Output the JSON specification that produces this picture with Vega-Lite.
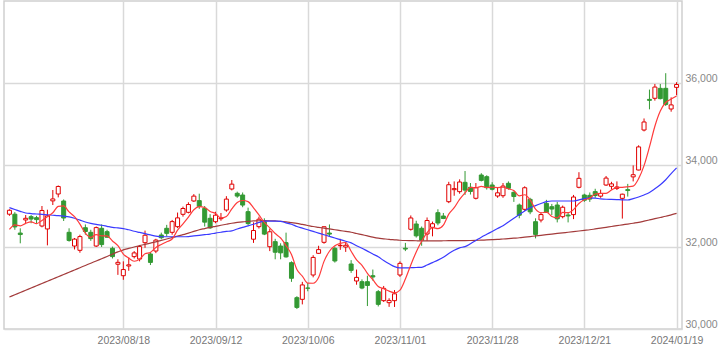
{
  "$schema": "https://vega.github.io/schema/vega-lite/v6.json",
  "width": 678,
  "height": 328,
  "autosize": {"type": "none"},
  "padding": {"left": 4, "top": 1, "right": 39, "bottom": 24},
  "background": "white",
  "config": {"view": {"stroke": "#cfcfcf", "strokeWidth": 1.5}, "font": "Liberation Sans"},
  "data": {"values": [
    {"d":"2023/07/19","o":32800,"h":32920,"l":32760,"c":32896,"m5":32429,"m25":32960,"m75":30780},
    {"d":"2023/07/20","o":32800,"h":32850,"l":32420,"c":32490,"m5":32538,"m25":32915,"m75":30835},
    {"d":"2023/07/21","o":32340,"h":32456,"l":32090,"c":32304,"m5":32515,"m25":32870,"m75":30890},
    {"d":"2023/07/24","o":32660,"h":32780,"l":32580,"c":32700,"m5":32577,"m25":32830,"m75":30945},
    {"d":"2023/07/25","o":32740,"h":32780,"l":32580,"c":32682,"m5":32614,"m25":32815,"m75":31000},
    {"d":"2023/07/26","o":32715,"h":32760,"l":32560,"c":32668,"m5":32569,"m25":32805,"m75":31055},
    {"d":"2023/07/27","o":32512,"h":33000,"l":32480,"c":32891,"m5":32649,"m25":32795,"m75":31110},
    {"d":"2023/07/28","o":32440,"h":32910,"l":32040,"c":32759,"m5":32740,"m25":32785,"m75":31165},
    {"d":"2023/07/31","o":33125,"h":33390,"l":33024,"c":33172,"m5":32834,"m25":32775,"m75":31220},
    {"d":"2023/08/01","o":33293,"h":33500,"l":33210,"c":33476,"m5":32993,"m25":32765,"m75":31275},
    {"d":"2023/08/02","o":33122,"h":33160,"l":32634,"c":32707,"m5":33001,"m25":32752,"m75":31330},
    {"d":"2023/08/03","o":32358,"h":32456,"l":32130,"c":32159,"m5":32855,"m25":32735,"m75":31385},
    {"d":"2023/08/04","o":32024,"h":32220,"l":31940,"c":32192,"m5":32741,"m25":32700,"m75":31440},
    {"d":"2023/08/07","o":31919,"h":32300,"l":31860,"c":32254,"m5":32558,"m25":32655,"m75":31495},
    {"d":"2023/08/08","o":32470,"h":32550,"l":32300,"c":32377,"m5":32338,"m25":32610,"m75":31550},
    {"d":"2023/08/09","o":32358,"h":32420,"l":32150,"c":32204,"m5":32237,"m25":32575,"m75":31605},
    {"d":"2023/08/10","o":32024,"h":32500,"l":32000,"c":32473,"m5":32300,"m25":32550,"m75":31660},
    {"d":"2023/08/14","o":32456,"h":32550,"l":32000,"c":32059,"m5":32273,"m25":32530,"m75":31715},
    {"d":"2023/08/15","o":32374,"h":32420,"l":32230,"c":32238,"m5":32270,"m25":32505,"m75":31770},
    {"d":"2023/08/16","o":31968,"h":32010,"l":31720,"c":31766,"m5":32148,"m25":32480,"m75":31825},
    {"d":"2023/08/17","o":31580,"h":31700,"l":31320,"c":31626,"m5":32032,"m25":32465,"m75":31880},
    {"d":"2023/08/18","o":31300,"h":31650,"l":31200,"c":31450,"m5":31828,"m25":32450,"m75":31930},
    {"d":"2023/08/21","o":31537,"h":31740,"l":31420,"c":31565,"m5":31729,"m25":32420,"m75":31965},
    {"d":"2023/08/22","o":31765,"h":31900,"l":31720,"c":31856,"m5":31653,"m25":32385,"m75":32000},
    {"d":"2023/08/23","o":31707,"h":32050,"l":31650,"c":32010,"m5":31701,"m25":32355,"m75":32035},
    {"d":"2023/08/24","o":32105,"h":32400,"l":31980,"c":32287,"m5":31834,"m25":32325,"m75":32065},
    {"d":"2023/08/25","o":31830,"h":31880,"l":31560,"c":31624,"m5":31868,"m25":32295,"m75":32095},
    {"d":"2023/08/28","o":31902,"h":32200,"l":31850,"c":32169,"m5":31989,"m25":32265,"m75":32125},
    {"d":"2023/08/29","o":32293,"h":32350,"l":32190,"c":32226,"m5":32063,"m25":32250,"m75":32160},
    {"d":"2023/08/30","o":32456,"h":32540,"l":32260,"c":32333,"m5":32128,"m25":32250,"m75":32195},
    {"d":"2023/08/31","o":32358,"h":32660,"l":32300,"c":32619,"m5":32194,"m25":32250,"m75":32230},
    {"d":"2023/09/01","o":32496,"h":32840,"l":32460,"c":32710,"m5":32411,"m25":32250,"m75":32265},
    {"d":"2023/09/04","o":32797,"h":32985,"l":32740,"c":32939,"m5":32565,"m25":32250,"m75":32300},
    {"d":"2023/09/05","o":32846,"h":33090,"l":32820,"c":33036,"m5":32727,"m25":32255,"m75":32340},
    {"d":"2023/09/06","o":33122,"h":33290,"l":33100,"c":33241,"m5":32909,"m25":32270,"m75":32380},
    {"d":"2023/09/07","o":33131,"h":33300,"l":32930,"c":32991,"m5":32983,"m25":32285,"m75":32420},
    {"d":"2023/09/08","o":32943,"h":33000,"l":32500,"c":32606,"m5":32963,"m25":32300,"m75":32450},
    {"d":"2023/09/11","o":32700,"h":32800,"l":32440,"c":32467,"m5":32868,"m25":32315,"m75":32480},
    {"d":"2023/09/12","o":32617,"h":32860,"l":32580,"c":32776,"m5":32816,"m25":32340,"m75":32505},
    {"d":"2023/09/13","o":32690,"h":32830,"l":32640,"c":32706,"m5":32709,"m25":32360,"m75":32530},
    {"d":"2023/09/14","o":32902,"h":33240,"l":32860,"c":33168,"m5":32745,"m25":32380,"m75":32555},
    {"d":"2023/09/15","o":33415,"h":33634,"l":33380,"c":33533,"m5":32930,"m25":32395,"m75":32580},
    {"d":"2023/09/19","o":33310,"h":33350,"l":33200,"c":33242,"m5":33085,"m25":32440,"m75":32600},
    {"d":"2023/09/20","o":33268,"h":33330,"l":32970,"c":33023,"m5":33134,"m25":32480,"m75":32615},
    {"d":"2023/09/21","o":32862,"h":32960,"l":32530,"c":32571,"m5":33107,"m25":32515,"m75":32625},
    {"d":"2023/09/22","o":32190,"h":32600,"l":32100,"c":32402,"m5":32954,"m25":32555,"m75":32635},
    {"d":"2023/09/25","o":32496,"h":32740,"l":32450,"c":32678,"m5":32783,"m25":32600,"m75":32640},
    {"d":"2023/09/26","o":32617,"h":32700,"l":32290,"c":32315,"m5":32598,"m25":32630,"m75":32642},
    {"d":"2023/09/27","o":32007,"h":32450,"l":31900,"c":32371,"m5":32467,"m25":32632,"m75":32640},
    {"d":"2023/09/28","o":32130,"h":32200,"l":31700,"c":31872,"m5":32328,"m25":32630,"m75":32635},
    {"d":"2023/09/29","o":32024,"h":32090,"l":31700,"c":31857,"m5":32219,"m25":32627,"m75":32628},
    {"d":"2023/10/02","o":32106,"h":32350,"l":31740,"c":31759,"m5":32035,"m25":32590,"m75":32615},
    {"d":"2023/10/03","o":31618,"h":31650,"l":31150,"c":31237,"m5":31819,"m25":32555,"m75":32595},
    {"d":"2023/10/04","o":30764,"h":30800,"l":30487,"c":30526,"m5":31450,"m25":32500,"m75":32575},
    {"d":"2023/10/05","o":30724,"h":31150,"l":30600,"c":31075,"m5":31291,"m25":32460,"m75":32550},
    {"d":"2023/10/06","o":31000,"h":31120,"l":30920,"c":30994,"m5":31118,"m25":32420,"m75":32525},
    {"d":"2023/10/10","o":31317,"h":31800,"l":31260,"c":31746,"m5":31116,"m25":32380,"m75":32500},
    {"d":"2023/10/11","o":31846,"h":32030,"l":31830,"c":31936,"m5":31255,"m25":32340,"m75":32480},
    {"d":"2023/10/12","o":32114,"h":32500,"l":32080,"c":32494,"m5":31649,"m25":32300,"m75":32460},
    {"d":"2023/10/13","o":32340,"h":32550,"l":32260,"c":32315,"m5":31897,"m25":32260,"m75":32440},
    {"d":"2023/10/16","o":31968,"h":32010,"l":31620,"c":31659,"m5":32030,"m25":32220,"m75":32420},
    {"d":"2023/10/17","o":32030,"h":32200,"l":31930,"c":32040,"m5":32089,"m25":32180,"m75":32400},
    {"d":"2023/10/18","o":32000,"h":32100,"l":31880,"c":32042,"m5":32110,"m25":32140,"m75":32380},
    {"d":"2023/10/19","o":31585,"h":31680,"l":31370,"c":31430,"m5":31897,"m25":32100,"m75":32360},
    {"d":"2023/10/20","o":31171,"h":31450,"l":31080,"c":31259,"m5":31686,"m25":32030,"m75":32330},
    {"d":"2023/10/23","o":31154,"h":31210,"l":30970,"c":30999,"m5":31554,"m25":31970,"m75":32300},
    {"d":"2023/10/24","o":31154,"h":31300,"l":30560,"c":31062,"m5":31358,"m25":31900,"m75":32270},
    {"d":"2023/10/25","o":31300,"h":31450,"l":31180,"c":31269,"m5":31204,"m25":31830,"m75":32240},
    {"d":"2023/10/26","o":30910,"h":30950,"l":30550,"c":30601,"m5":31038,"m25":31760,"m75":32215},
    {"d":"2023/10/27","o":30691,"h":31050,"l":30660,"c":30991,"m5":30984,"m25":31670,"m75":32200},
    {"d":"2023/10/30","o":30642,"h":30750,"l":30540,"c":30697,"m5":30924,"m25":31590,"m75":32185},
    {"d":"2023/10/31","o":30691,"h":30950,"l":30538,"c":30858,"m5":30883,"m25":31520,"m75":32175},
    {"d":"2023/11/01","o":31317,"h":31650,"l":31270,"c":31601,"m5":30950,"m25":31490,"m75":32165},
    {"d":"2023/11/02","o":31970,"h":32100,"l":31900,"c":31950,"m5":31219,"m25":31490,"m75":32158},
    {"d":"2023/11/06","o":32432,"h":32770,"l":32400,"c":32708,"m5":31563,"m25":31495,"m75":32155},
    {"d":"2023/11/07","o":32561,"h":32640,"l":32230,"c":32272,"m5":31878,"m25":31500,"m75":32152},
    {"d":"2023/11/08","o":32456,"h":32500,"l":32030,"c":32166,"m5":32139,"m25":31505,"m75":32150},
    {"d":"2023/11/09","o":32317,"h":32720,"l":32150,"c":32646,"m5":32348,"m25":31560,"m75":32150},
    {"d":"2023/11/10","o":32480,"h":32620,"l":32260,"c":32568,"m5":32472,"m25":31620,"m75":32150},
    {"d":"2023/11/13","o":32837,"h":32920,"l":32530,"c":32585,"m5":32447,"m25":31680,"m75":32150},
    {"d":"2023/11/14","o":32756,"h":32830,"l":32680,"c":32695,"m5":32532,"m25":31750,"m75":32152},
    {"d":"2023/11/15","o":33105,"h":33590,"l":33070,"c":33519,"m5":32803,"m25":31840,"m75":32154},
    {"d":"2023/11/16","o":33398,"h":33600,"l":33250,"c":33424,"m5":32958,"m25":31920,"m75":32154},
    {"d":"2023/11/17","o":33350,"h":33650,"l":33300,"c":33585,"m5":33162,"m25":31980,"m75":32155},
    {"d":"2023/11/20","o":33577,"h":33853,"l":33270,"c":33388,"m5":33322,"m25":32010,"m75":32156},
    {"d":"2023/11/21","o":33456,"h":33560,"l":33280,"c":33354,"m5":33454,"m25":32080,"m75":32158},
    {"d":"2023/11/22","o":33188,"h":33560,"l":33160,"c":33451,"m5":33440,"m25":32160,"m75":32162},
    {"d":"2023/11/24","o":33756,"h":33800,"l":33600,"c":33625,"m5":33481,"m25":32240,"m75":32168},
    {"d":"2023/11/27","o":33715,"h":33750,"l":33400,"c":33447,"m5":33453,"m25":32310,"m75":32172},
    {"d":"2023/11/28","o":33512,"h":33580,"l":33380,"c":33408,"m5":33457,"m25":32380,"m75":32178},
    {"d":"2023/11/29","o":33244,"h":33450,"l":33200,"c":33321,"m5":33450,"m25":32450,"m75":32185},
    {"d":"2023/11/30","o":33251,"h":33560,"l":33200,"c":33486,"m5":33457,"m25":32520,"m75":32195},
    {"d":"2023/12/01","o":33553,"h":33600,"l":33400,"c":33431,"m5":33419,"m25":32610,"m75":32205},
    {"d":"2023/12/04","o":33334,"h":33350,"l":33100,"c":33231,"m5":33375,"m25":32700,"m75":32215},
    {"d":"2023/12/05","o":33024,"h":33060,"l":32700,"c":32775,"m5":33249,"m25":32790,"m75":32225},
    {"d":"2023/12/06","o":32919,"h":33480,"l":32880,"c":33445,"m5":33274,"m25":32880,"m75":32240},
    {"d":"2023/12/07","o":33163,"h":33200,"l":32800,"c":32858,"m5":33148,"m25":32955,"m75":32255},
    {"d":"2023/12/08","o":32617,"h":32700,"l":32210,"c":32307,"m5":32923,"m25":33010,"m75":32270},
    {"d":"2023/12/11","o":32658,"h":32850,"l":32600,"c":32791,"m5":32835,"m25":33060,"m75":32285},
    {"d":"2023/12/12","o":33065,"h":33150,"l":32830,"c":32843,"m5":32849,"m25":33105,"m75":32300},
    {"d":"2023/12/13","o":32983,"h":33050,"l":32780,"c":32926,"m5":32745,"m25":33122,"m75":32315},
    {"d":"2023/12/14","o":33024,"h":33100,"l":32600,"c":32686,"m5":32711,"m25":33122,"m75":32330},
    {"d":"2023/12/15","o":32740,"h":33010,"l":32700,"c":32970,"m5":32843,"m25":33122,"m75":32345},
    {"d":"2023/12/18","o":32780,"h":32850,"l":32600,"c":32758,"m5":32837,"m25":33122,"m75":32360},
    {"d":"2023/12/19","o":32790,"h":33270,"l":32680,"c":33219,"m5":32912,"m25":33122,"m75":32375},
    {"d":"2023/12/20","o":33456,"h":33824,"l":33431,"c":33675,"m5":33062,"m25":33150,"m75":32390},
    {"d":"2023/12/21","o":33268,"h":33300,"l":33100,"c":33140,"m5":33152,"m25":33180,"m75":32405},
    {"d":"2023/12/22","o":33260,"h":33330,"l":33100,"c":33169,"m5":33192,"m25":33200,"m75":32420},
    {"d":"2023/12/25","o":33350,"h":33420,"l":33200,"c":33255,"m5":33292,"m25":33190,"m75":32440},
    {"d":"2023/12/26","o":33240,"h":33400,"l":33200,"c":33305,"m5":33309,"m25":33175,"m75":32460},
    {"d":"2023/12/27","o":33512,"h":33732,"l":33490,"c":33681,"m5":33310,"m25":33165,"m75":32480},
    {"d":"2023/12/28","o":33480,"h":33590,"l":33400,"c":33540,"m5":33390,"m25":33160,"m75":32500},
    {"d":"2023/12/29","o":33430,"h":33600,"l":33390,"c":33464,"m5":33449,"m25":33155,"m75":32520},
    {"d":"2024/01/04","o":33187,"h":33300,"l":32693,"c":33288,"m5":33456,"m25":33150,"m75":32540},
    {"d":"2024/01/05","o":33400,"h":33540,"l":33230,"c":33377,"m5":33470,"m25":33146,"m75":32560},
    {"d":"2024/01/09","o":33710,"h":33990,"l":33600,"c":33763,"m5":33486,"m25":33180,"m75":32580},
    {"d":"2024/01/10","o":33878,"h":34480,"l":33870,"c":34441,"m5":33667,"m25":33220,"m75":32600},
    {"d":"2024/01/11","o":34853,"h":35135,"l":34820,"c":35049,"m5":33984,"m25":33270,"m75":32630},
    {"d":"2024/01/12","o":35600,"h":35839,"l":35358,"c":35577,"m5":34441,"m25":33330,"m75":32660},
    {"d":"2024/01/15","o":35627,"h":35976,"l":35570,"c":35901,"m5":34946,"m25":33420,"m75":32690},
    {"d":"2024/01/16","o":35870,"h":35976,"l":35600,"c":35619,"m5":35317,"m25":33520,"m75":32720},
    {"d":"2024/01/17","o":35870,"h":36239,"l":35440,"c":35477,"m5":35525,"m25":33640,"m75":32750},
    {"d":"2024/01/18","o":35366,"h":35650,"l":35300,"c":35466,"m5":35608,"m25":33790,"m75":32785},
    {"d":"2024/01/19","o":35894,"h":36020,"l":35700,"c":35963,"m5":35685,"m25":33930,"m75":32820}
  ]},
  "encoding": {
    "x": {
      "field": "d",
      "type": "ordinal",
      "scale": {"type": "point", "padding": 1},
      "axis": {
        "values": ["2023/08/18","2023/09/12","2023/10/06","2023/11/01","2023/11/28","2023/12/21","2024/01/19"],
        "title": null,
        "grid": true,
        "gridColor": "#d9d9d9",
        "gridWidth": 1.5,
        "domain": false,
        "ticks": false,
        "labelAngle": 0,
        "labelFont": "Liberation Sans",
        "labelFontSize": 10.5,
        "labelColor": "#777777",
        "labelPadding": 6
      }
    }
  },
  "layer": [
    {
      "mark": {"type": "rule", "strokeWidth": 1},
      "encoding": {
        "y": {
          "field": "l",
          "type": "quantitative",
          "scale": {"domain": [30000, 38000], "zero": false, "nice": false},
          "axis": {
            "orient": "right",
            "values": [30000, 32000, 34000, 36000],
            "format": ",.0f",
            "title": null,
            "grid": true,
            "gridColor": "#d9d9d9",
            "gridWidth": 1.5,
            "domain": false,
            "ticks": false,
            "labelAlign": "left",
            "labelBaseline": "alphabetic",
            "labelOffset": -2,
            "labelPadding": 3,
            "labelFont": "Liberation Sans",
            "labelFontSize": 10.5,
            "labelColor": "#888888"
          }
        },
        "y2": {"field": "h"},
        "color": {"condition": {"test": "datum.c >= datum.o", "value": "#e00000"}, "value": "#339933"}
      }
    },
    {
      "mark": {"type": "bar", "size": 4, "strokeWidth": 1},
      "encoding": {
        "y": {"field": "o", "type": "quantitative"},
        "y2": {"field": "c"},
        "fill": {"condition": {"test": "datum.c >= datum.o", "value": "#ffffff"}, "value": "#339933"},
        "stroke": {"condition": {"test": "datum.c >= datum.o", "value": "#e00000"}, "value": "#339933"}
      }
    },
    {
      "mark": {"type": "line", "interpolate": "monotone", "color": "#a33b3b", "strokeWidth": 1.2},
      "encoding": {"y": {"field": "m75", "type": "quantitative"}}
    },
    {
      "mark": {"type": "line", "interpolate": "monotone", "color": "#3a3aff", "strokeWidth": 1.2},
      "encoding": {"y": {"field": "m25", "type": "quantitative"}}
    },
    {
      "mark": {"type": "line", "interpolate": "monotone", "color": "#ff3b3b", "strokeWidth": 1.2},
      "encoding": {"y": {"field": "m5", "type": "quantitative"}}
    }
  ]
}
